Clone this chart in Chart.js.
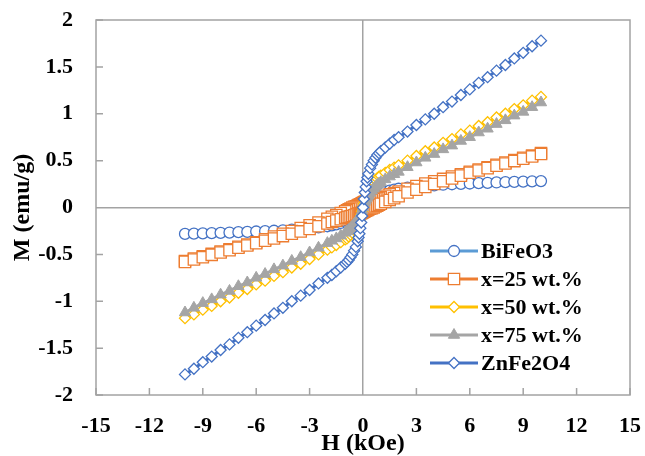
<!DOCTYPE html>
<html>
<head>
<meta charset="utf-8">
<script src="https://cdn.jsdelivr.net/npm/chart.js@4.4.0/dist/chart.umd.min.js"></script>
<style>
  html, body { margin: 0; padding: 0; background: #fff; }
  #wrap { width: 645px; height: 456px; position: relative; }
</style>
</head>
<body>
<div id="wrap"><canvas id="mhChart"></canvas></div>
<script>
// applied field H (kOe), shared by every curve
const hField = [-10, -9.5, -9, -8.5, -8, -7.5, -7, -6.5, -6, -5.5, -5, -4.5, -4, -3.5, -3, -2.5, -2,
  -1.75, -1.5, -1.25, -1, -0.9, -0.8, -0.7, -0.6, -0.5, -0.4, -0.3, -0.25, -0.2, -0.15, -0.1, -0.05,
  0,
  0.05, 0.1, 0.15, 0.2, 0.25, 0.3, 0.4, 0.5, 0.6, 0.7, 0.8, 0.9, 1, 1.25, 1.5, 1.75,
  2, 2.5, 3, 3.5, 4, 4.5, 5, 5.5, 6, 6.5, 7, 7.5, 8, 8.5, 9, 9.5, 10];

// magnetisation M (emu/g)
const bifeo3 = [-0.282, -0.279, -0.276, -0.273, -0.27, -0.267, -0.263, -0.26, -0.256, -0.252, -0.248, -0.243, -0.237, -0.231, -0.223, -0.213, -0.2,
  -0.19, -0.18, -0.165, -0.15, -0.14, -0.13, -0.12, -0.11, -0.095, -0.085, -0.07, -0.06, -0.05, -0.04, -0.03, -0.015,
  0,
  0.015, 0.03, 0.04, 0.05, 0.06, 0.07, 0.085, 0.095, 0.11, 0.12, 0.13, 0.14, 0.15, 0.165, 0.18, 0.19,
  0.2, 0.213, 0.223, 0.231, 0.237, 0.243, 0.248, 0.252, 0.256, 0.26, 0.263, 0.267, 0.27, 0.273, 0.276, 0.279, 0.282];

// x=25 wt.% shows a small open loop: field sweeping down, then up
const x25Down = [-0.57, -0.545, -0.52, -0.495, -0.47, -0.445, -0.42, -0.395, -0.37, -0.34, -0.31, -0.28, -0.25, -0.22, -0.19, -0.16, -0.12,
  -0.1, -0.08, -0.06, -0.04, -0.03, -0.02, -0.01, 0, 0.007, 0.013, 0.02, 0.025, 0.03, 0.035, 0.04, 0.045,
  0.05,
  0.055, 0.06, 0.062, 0.065, 0.068, 0.07, 0.075, 0.083, 0.09, 0.095, 0.1, 0.105, 0.11, 0.125, 0.14, 0.155,
  0.17, 0.2, 0.23, 0.255, 0.28, 0.305, 0.33, 0.355, 0.38, 0.405, 0.43, 0.455, 0.48, 0.505, 0.53, 0.555, 0.58];
const x25Up = [-0.58, -0.555, -0.53, -0.505, -0.48, -0.455, -0.43, -0.405, -0.38, -0.355, -0.33, -0.305, -0.28, -0.255, -0.23, -0.2, -0.17,
  -0.155, -0.14, -0.125, -0.11, -0.105, -0.1, -0.095, -0.09, -0.083, -0.075, -0.07, -0.068, -0.065, -0.062, -0.06, -0.055,
  -0.05,
  -0.045, -0.04, -0.035, -0.03, -0.025, -0.02, -0.013, -0.007, 0, 0.01, 0.02, 0.03, 0.04, 0.06, 0.08, 0.1,
  0.12, 0.16, 0.19, 0.22, 0.25, 0.28, 0.31, 0.34, 0.37, 0.395, 0.42, 0.445, 0.47, 0.495, 0.52, 0.545, 0.57];

const x50 = [-1.18, -1.14, -1.09, -1.05, -1.0, -0.96, -0.91, -0.87, -0.82, -0.78, -0.73, -0.69, -0.64, -0.6, -0.55, -0.5, -0.45,
  -0.425, -0.4, -0.37, -0.34, -0.33, -0.31, -0.29, -0.27, -0.24, -0.21, -0.18, -0.16, -0.14, -0.11, -0.08, -0.04,
  0,
  0.04, 0.08, 0.11, 0.14, 0.16, 0.18, 0.21, 0.24, 0.27, 0.29, 0.31, 0.33, 0.34, 0.37, 0.4, 0.425,
  0.45, 0.5, 0.55, 0.6, 0.64, 0.69, 0.73, 0.78, 0.82, 0.87, 0.91, 0.96, 1.0, 1.05, 1.09, 1.14, 1.18];

const x75 = [-1.12, -1.07, -1.02, -0.98, -0.93, -0.89, -0.84, -0.8, -0.75, -0.71, -0.66, -0.62, -0.57, -0.53, -0.48, -0.43, -0.38,
  -0.355, -0.33, -0.3, -0.27, -0.255, -0.24, -0.22, -0.2, -0.18, -0.155, -0.13, -0.115, -0.1, -0.08, -0.06, -0.03,
  0,
  0.03, 0.06, 0.08, 0.1, 0.115, 0.13, 0.155, 0.18, 0.2, 0.22, 0.24, 0.255, 0.27, 0.3, 0.33, 0.355,
  0.38, 0.43, 0.48, 0.53, 0.57, 0.62, 0.66, 0.71, 0.75, 0.8, 0.84, 0.89, 0.93, 0.98, 1.02, 1.07, 1.12];

const znfe2o4 = [-1.78, -1.72, -1.65, -1.59, -1.52, -1.46, -1.39, -1.33, -1.26, -1.2, -1.13, -1.07, -1.0, -0.94, -0.88, -0.81, -0.75,
  -0.72, -0.68, -0.64, -0.6, -0.58, -0.56, -0.53, -0.5, -0.46, -0.42, -0.36, -0.32, -0.28, -0.22, -0.16, -0.09,
  0,
  0.09, 0.16, 0.22, 0.28, 0.32, 0.36, 0.42, 0.46, 0.5, 0.53, 0.56, 0.58, 0.6, 0.64, 0.68, 0.72,
  0.75, 0.81, 0.88, 0.94, 1.0, 1.07, 1.13, 1.2, 1.26, 1.33, 1.39, 1.46, 1.52, 1.59, 1.65, 1.72, 1.78];

const seriesLabels = ["BiFeO3", "x=25 wt.%", "x=50 wt.%", "x=75 wt.%", "ZnFe2O4"];

const serif = "'Liberation Serif', 'Times New Roman', serif";
const axisGray = "#a3a3a3";

function toPoints(values) {
  return hField.map((h, i) => ({ x: h, y: values[i] }));
}

const x25Loop = toPoints(x25Down).reverse().concat(toPoints(x25Up));

// frame round the plot, inner tick marks
const axisFrame = {
  id: "axisFrame",
  beforeDatasetsDraw(chart) {
    const { ctx, chartArea: a, scales } = chart;
    ctx.save();
    ctx.strokeStyle = axisGray;
    ctx.lineWidth = 1.5;
    ctx.strokeRect(a.left, a.top, a.right - a.left, a.bottom - a.top);
    ctx.beginPath();
    scales.x.ticks.forEach((t) => {
      if (t.value === 0) return;
      const px = scales.x.getPixelForValue(t.value);
      ctx.moveTo(px, a.bottom);
      ctx.lineTo(px, a.bottom - 7);
    });
    scales.y.ticks.forEach((t) => {
      if (t.value === 0) return;
      const py = scales.y.getPixelForValue(t.value);
      ctx.moveTo(a.left, py);
      ctx.lineTo(a.left + 7, py);
    });
    ctx.stroke();
    ctx.restore();
  },
};

// legend sits inside the plot, lower right
const insideLegend = {
  id: "insideLegend",
  afterDraw(chart) {
    const { ctx, chartArea: a } = chart;
    const lineStart = a.left + 334;
    const lineEnd = a.left + 382;
    const textX = a.left + 385;
    ctx.save();
    chart.data.datasets.forEach((ds, i) => {
      const y = a.top + 231 + i * 28;
      ctx.strokeStyle = ds.borderColor;
      ctx.lineWidth = ds.borderWidth;
      ctx.beginPath();
      ctx.moveTo(lineStart, y);
      ctx.lineTo(lineEnd, y);
      ctx.stroke();
      ctx.fillStyle = ds.pointBackgroundColor;
      ctx.strokeStyle = ds.pointBorderColor;
      ctx.lineWidth = ds.pointBorderWidth;
      Chart.helpers.drawPoint(
        ctx,
        { pointStyle: ds.pointStyle, radius: ds.pointRadius, borderWidth: ds.pointBorderWidth, rotation: 0 },
        (lineStart + lineEnd) / 2,
        y
      );
      ctx.fillStyle = "#000";
      ctx.font = "bold 22px " + serif;
      ctx.textAlign = "left";
      ctx.textBaseline = "middle";
      ctx.fillText(ds.label, textX, y + 1);
    });
    ctx.restore();
  },
};

new Chart(document.getElementById("mhChart"), {
  type: "scatter",
  data: {
    datasets: [
      {
        label: seriesLabels[0],
        data: toPoints(bifeo3),
        showLine: true,
        borderColor: "#5b9bd5",
        borderWidth: 3,
        pointStyle: "circle",
        pointRadius: 5.5,
        pointBorderColor: "#4472c4",
        pointBackgroundColor: "#ffffff",
        pointBorderWidth: 1.3,
        order: 5,
      },
      {
        label: seriesLabels[1],
        data: x25Loop,
        showLine: true,
        borderColor: "#ed7d31",
        borderWidth: 3,
        pointStyle: "rect",
        pointRadius: 8,
        pointBorderColor: "#ed7d31",
        pointBackgroundColor: "#ffffff",
        pointBorderWidth: 1.3,
        order: 4,
      },
      {
        label: seriesLabels[2],
        data: toPoints(x50),
        showLine: true,
        borderColor: "#ffc000",
        borderWidth: 3,
        pointStyle: "rectRot",
        pointRadius: 5.5,
        pointBorderColor: "#ffc000",
        pointBackgroundColor: "#ffffff",
        pointBorderWidth: 1.3,
        order: 3,
      },
      {
        label: seriesLabels[3],
        data: toPoints(x75),
        showLine: true,
        borderColor: "#a5a5a5",
        borderWidth: 3,
        pointStyle: "triangle",
        pointRadius: 6.5,
        pointBorderColor: "#a5a5a5",
        pointBackgroundColor: "#a5a5a5",
        pointBorderWidth: 1,
        order: 2,
      },
      {
        label: seriesLabels[4],
        data: toPoints(znfe2o4),
        showLine: true,
        borderColor: "#4472c4",
        borderWidth: 3,
        pointStyle: "rectRot",
        pointRadius: 5.5,
        pointBorderColor: "#4472c4",
        pointBackgroundColor: "#ffffff",
        pointBorderWidth: 1.3,
        order: 1,
      },
    ],
  },
  options: {
    responsive: true,
    maintainAspectRatio: false,
    animation: false,
    devicePixelRatio: 1,
    layout: { padding: { top: 20, right: 15, bottom: 0, left: 0 } },
    plugins: {
      legend: { display: false },
      tooltip: { enabled: false },
    },
    scales: {
      x: {
        type: "linear",
        min: -15,
        max: 15,
        afterFit(scale) {
          scale.height = 61;
          scale.paddingLeft = 0;
          scale.paddingRight = 0;
        },
        border: { display: false },
        grid: {
          drawTicks: false,
          lineWidth: 1.5,
          color: (c) => (c.tick && c.tick.value === 0 ? axisGray : "rgba(0,0,0,0)"),
        },
        ticks: {
          stepSize: 3,
          padding: 18,
          color: "#000",
          font: { family: serif, size: 22, weight: "bold" },
        },
        title: {
          display: true,
          text: "H (kOe)",
          color: "#000",
          padding: { top: 0, bottom: 0 },
          font: { family: serif, size: 24, weight: "bold", lineHeight: 1 },
        },
      },
      y: {
        type: "linear",
        min: -2,
        max: 2,
        afterFit(scale) {
          scale.width = 96;
          scale.paddingTop = 0;
          scale.paddingBottom = 0;
        },
        border: { display: false },
        grid: {
          drawTicks: false,
          lineWidth: 1.5,
          color: (c) => (c.tick && c.tick.value === 0 ? axisGray : "rgba(0,0,0,0)"),
        },
        ticks: {
          stepSize: 0.5,
          padding: 23,
          color: "#000",
          font: { family: serif, size: 22, weight: "bold" },
          callback: (v) => String(v),
        },
        title: {
          display: true,
          text: "M (emu/g)",
          color: "#000",
          padding: { top: 11, bottom: 0 },
          font: { family: serif, size: 24, weight: "bold", lineHeight: 1 },
        },
      },
    },
  },
  plugins: [axisFrame, insideLegend],
});
</script>
</body>
</html>
